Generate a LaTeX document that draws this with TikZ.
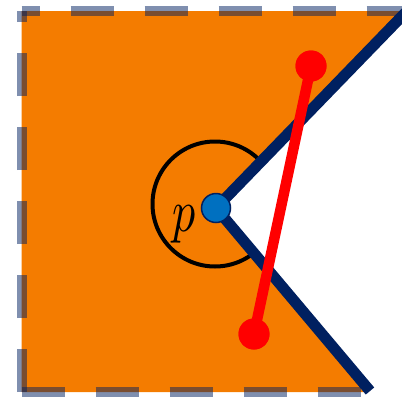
\documentclass[tikz,border=0pt]{standalone}
\usepackage{tikz}
\definecolor{orangefill}{RGB}{244,124,0}
\definecolor{navyline}{RGB}{0,32,96}
\definecolor{bluedot}{RGB}{0,112,192}
\definecolor{redseg}{RGB}{255,0,0}
\tikzset{
  edgeline/.style={draw=navyline, line width=11pt},
  borderdash/.style={draw=navyline, draw opacity=0.5, line width=10pt, dash pattern=on 43pt off 31pt},
  redline/.style={draw=redseg, line width=10.5pt},
  reddot/.style={circle, fill=redseg, minimum size=31pt, inner sep=0pt},
  pdot/.style={circle, fill=bluedot, draw=navyline, line width=1.5pt, minimum size=29pt, inner sep=0pt},
}
\begin{document}
\begin{tikzpicture}[x=1pt,y=-1pt]
\useasboundingbox (0,0) rectangle (402,397);
\coordinate (tl) at (21.5,11);
\coordinate (tr) at (413,4.8);
\coordinate (tre) at (410,11);
\coordinate (bl) at (21.5,392);
\coordinate (br) at (370,391);
\coordinate (be) at (366,392);
\coordinate (p) at (216,208);
\coordinate (cc) at (215,204);
% orange region
\path[fill=orangefill] (tl) -- (tre) -- (p) -- (br) -- (be) -- (bl) -- cycle;
% circle, clipped to region
\begin{scope}
\clip (tl) -- (tre) -- (p) -- (br) -- (be) -- (bl) -- cycle;
\draw[black, line width=4pt] (cc) circle[radius=62.5];
\end{scope}
% edges
\draw[edgeline] (p) -- (tr);
\draw[edgeline] (p) -- (br);
% red segment
\node[reddot] (r1) at (311,66) {};
\node[reddot] (r2) at (254,334) {};
\draw[redline] (r1.center) -- (r2.center);
\node[reddot] at (r1.center) {};
\node[reddot] at (r2.center) {};
% point p
\node[pdot] (pd) at (p) {};
\node[anchor=base, inner sep=0pt, xscale=4.6, yscale=6.0] (plabel) at (184,231) {$p$};
% dashed border
\draw[borderdash] (bl) -- (tl);
\draw[borderdash, dash phase=25pt] (tl) -- (tre);
\draw[borderdash] (bl) -- (be);
\end{tikzpicture}
\end{document}
